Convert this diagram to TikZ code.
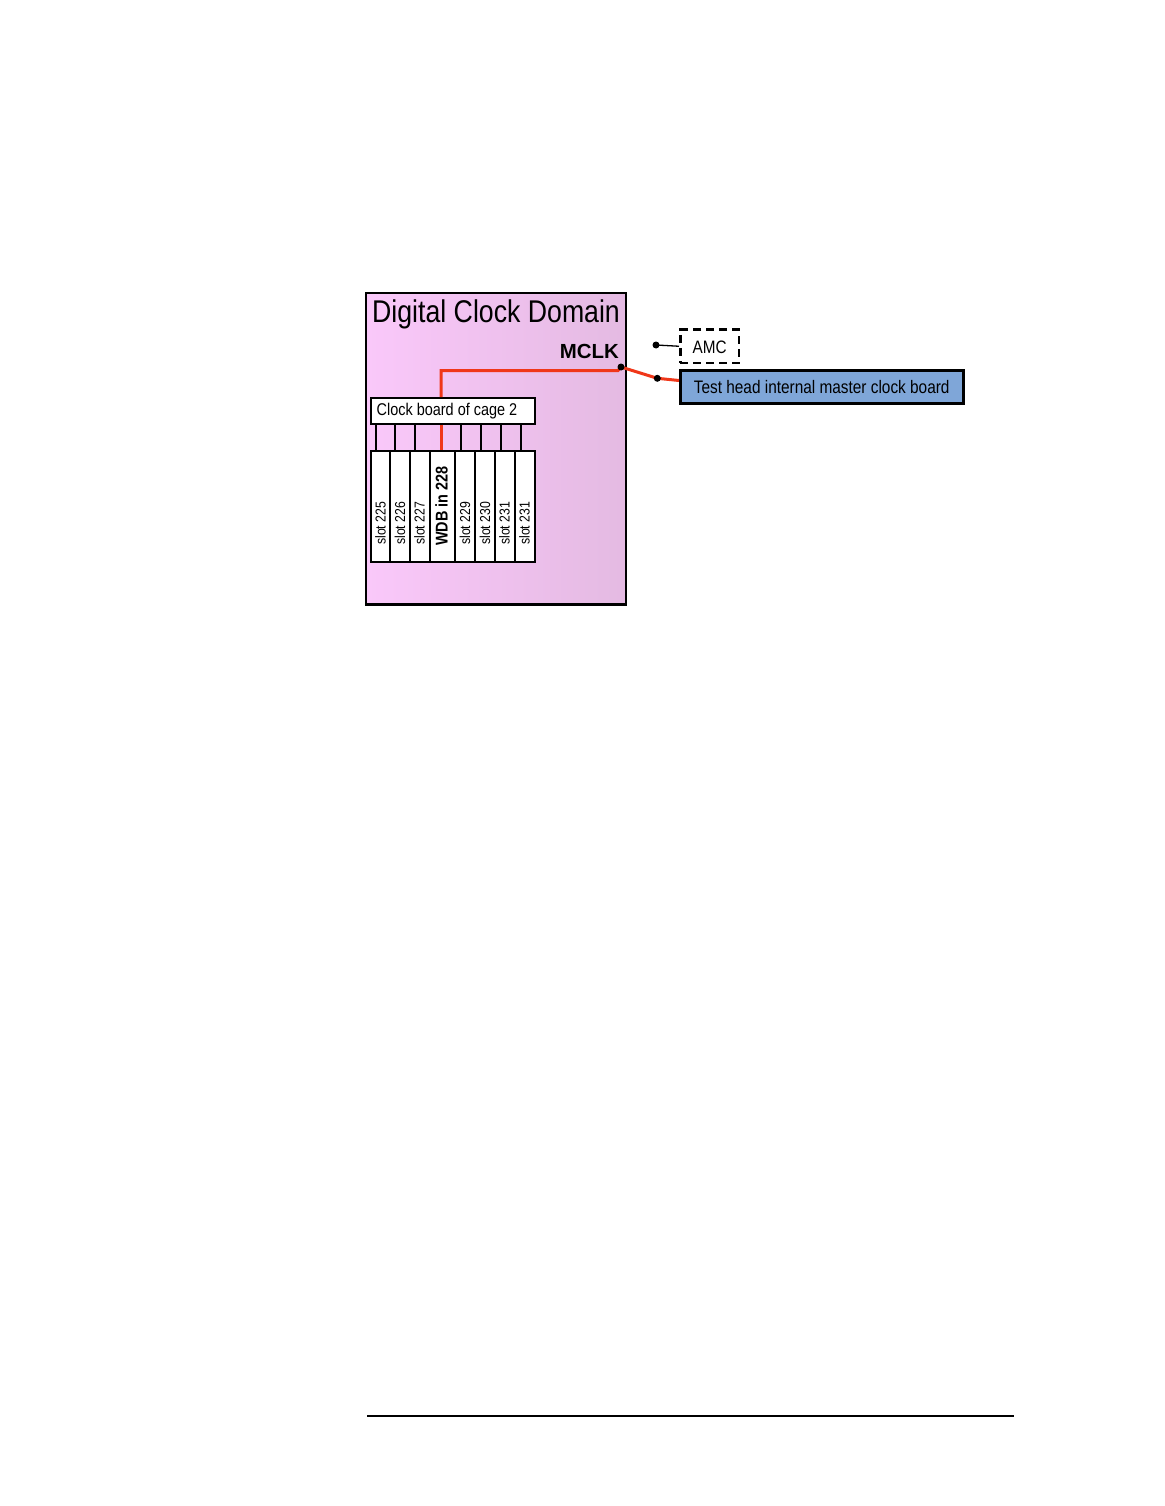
\documentclass[tikz,border=0pt]{standalone}
\usepackage{fontspec}
\setmainfont{Liberation Sans}
\newfontfamily\condf[FakeStretch=0.85]{Liberation Sans}
\definecolor{pinkL}{RGB}{250,200,250}
\definecolor{pinkR}{RGB}{228,186,226}
\definecolor{boardblue}{RGB}{127,166,216}
\definecolor{wire}{RGB}{240,55,25}
\tikzset{
  fsz/.style={font=\condf\fontsize{#1}{#1}\selectfont},
  slotbox/.style={draw=black, line width=2pt, fill=white, minimum width=#1, minimum height=111pt, inner sep=0pt, anchor=north west},
  slotlbl/.style={rotate=90, anchor=west, inner sep=0pt, fsz=14.4pt},
  thin/.style={draw=black, line width=1.8pt},
  redw/.style={draw=wire, line width=3pt},
  pin/.style={circle, fill=black, inner sep=0pt, minimum size=7pt},
}
\begin{document}
\begin{tikzpicture}[x=1pt,y=1pt]
\useasboundingbox (0,0) rectangle (1164,-1506);
% domain box
\node[draw=black, line width=2.7pt, left color=pinkL, right color=pinkR, minimum width=260pt, minimum height=311.5pt, inner sep=0pt, anchor=north west] (dom) at (364.5,-291.5) {};
\node[fsz=31.4pt, anchor=base west, inner sep=0pt] (title) at (372,-322) {Digital Clock Domain};
\node[font=\bfseries\fontsize{20.4pt}{20.4pt}\selectfont, anchor=base east, inner sep=0pt] (mclk) at (619,-358.5) {MCLK};
% clock board
\node[draw=black, line width=2pt, fill=white, minimum width=164.5pt, minimum height=25.5pt, inner sep=0pt, anchor=north west] (cb) at (369.5,-397) {};
\node[fsz=17pt, anchor=base west, inner sep=0pt] (cbt) at (376.5,-415) {Clock board of cage 2};
% slots
\node[slotbox=19.5pt] (s1) at (369.5,-449.5) {};
\node[slotbox=20pt] (s2) at (389,-449.5) {};
\node[slotbox=19.5pt] (s3) at (409,-449.5) {};
\node[slotbox=25.5pt] (s4) at (428.5,-449.5) {};
\node[slotbox=20pt] (s5) at (454,-449.5) {};
\node[slotbox=20pt] (s6) at (474,-449.5) {};
\node[slotbox=19.5pt] (s7) at (494,-449.5) {};
\node[slotbox=20pt] (s8) at (513.5,-449.5) {};
\node[slotlbl] (l1) at (380.5,-545) {slot 225};
\node[slotlbl] (l2) at (400,-545) {slot 226};
\node[slotlbl] (l3) at (419.5,-545) {slot 227};
\node[slotlbl, font=\condf\bfseries\fontsize{17pt}{17pt}\selectfont] (l4) at (441.5,-546) {WDB in 228};
\node[slotlbl] (l5) at (465,-545) {slot 229};
\node[slotlbl] (l6) at (485,-545) {slot 230};
\node[slotlbl] (l7) at (504.5,-545) {slot 231};
\node[slotlbl] (l8) at (524.5,-545) {slot 231};
% connectors clock board -> slots
\coordinate (c1) at (375.7,0);
\coordinate (c2) at (395,0);
\coordinate (c3) at (415,0);
\coordinate (c4) at (441,0);
\coordinate (c5) at (460.7,0);
\coordinate (c6) at (480.7,0);
\coordinate (c7) at (500.7,0);
\coordinate (c8) at (520.7,0);
\draw[thin] (cb.south -| c1) -- (s1.north -| c1);
\draw[thin] (cb.south -| c2) -- (s2.north -| c2);
\draw[thin] (cb.south -| c3) -- (s3.north -| c3);
\draw[redw] (cb.south -| c4) -- (s4.north -| c4);
\draw[thin] (cb.south -| c5) -- (s5.north -| c5);
\draw[thin] (cb.south -| c6) -- (s6.north -| c6);
\draw[thin] (cb.south -| c7) -- (s7.north -| c7);
\draw[thin] (cb.south -| c8) -- (s8.north -| c8);
% external boards
\node[draw=black, line width=2.5pt, fill=boardblue, minimum width=283pt, minimum height=33pt, inner sep=0pt, anchor=north west] (th) at (679,-369) {};
\node[fsz=18.1pt, anchor=base, inner sep=0pt] (tht) at (821.7,-393.3) {Test head internal master clock board};
\node[draw=black, line width=2.5pt, dash pattern=on 8pt off 5pt, minimum width=58.7pt, minimum height=33.4pt, inner sep=0pt, anchor=north west] (amc) at (679,-328.3) {};
\node[fsz=18pt, anchor=base, inner sep=0pt] (amct) at (709.7,-353.3) {AMC};
% pin positions
\coordinate (q1) at (621,-367);
\coordinate (q2) at (657.3,-378.3);
\coordinate (q3) at (656,-345);
\coordinate (rc) at (441,-370.5);
% wires
\draw[redw] (cb.north -| c4) -- (rc) -- (618,-370.5) -- (q1);
\draw[redw] (q1) -- (q2) -- (679,-380.5);
\draw[black, line width=1.3pt] (q3) -- (amc.west);
% pins
\node[pin] (p1) at (q1) {};
\node[pin] (p2) at (q2) {};
\node[pin] (p3) at (q3) {};
% footer rule
\draw[black, line width=1.6pt] (367,-1416) -- (1014,-1416);
\end{tikzpicture}
\end{document}
